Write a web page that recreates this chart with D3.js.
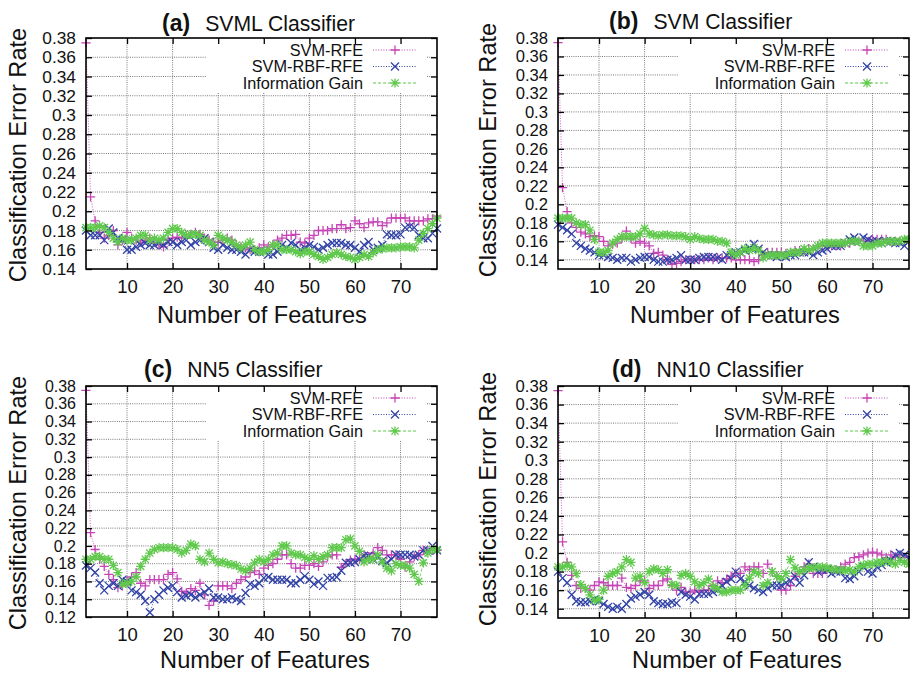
<!DOCTYPE html>
<html>
<head>
<meta charset="utf-8">
<script src="https://cdn.jsdelivr.net/npm/d3@7"></script>
<style>
  body { margin: 0; background: #fff; }
  svg { display: block; font-family: "Liberation Sans", Arial, sans-serif; }
</style>
</head>
<body>
<svg id="chart" width="910" height="676"></svg>
<script>
/*************************************************************************/
// data (x = number of features, 1..78)

const features = d3.range(1, 79);
const seriesNames = ['SVM-RFE', 'SVM-RBF-RFE', 'Information Gain'];
const xTicks = [10, 20, 30, 40, 50, 60, 70];

const svmlRfe = [.375,.215,.19,.178,.172,.175,.18,.165,.17,.178,
  .172,.17,.168,.17,.172,.168,.165,.163,.17,.172,
  .173,.172,.175,.176,.178,.176,.172,.17,.168,.168,
  .17,.172,.17,.165,.163,.162,.16,.16,.162,.165,
  .163,.165,.17,.172,.175,.175,.176,.168,.167,.172,
  .175,.18,.18,.18,.182,.182,.186,.182,.183,.19,
  .187,.183,.188,.189,.189,.185,.188,.193,.193,.193,
  .193,.19,.19,.19,.19,.192,.192,.195];
const svmlRbf = [.18,.175,.175,.175,.17,.182,.178,.172,.17,.16,
  .16,.163,.165,.167,.165,.165,.167,.165,.168,.168,
  .165,.168,.17,.165,.168,.17,.172,.168,.162,.16,
  .165,.162,.16,.16,.158,.155,.16,.158,.158,.158,
  .155,.155,.158,.165,.162,.167,.165,.16,.162,.165,
  .163,.16,.162,.165,.167,.167,.167,.165,.165,.162,
  .158,.165,.168,.16,.162,.165,.176,.175,.175,.176,
  .183,.184,.183,.175,.172,.172,.177,.182];
const svmlIg = [.183,.183,.183,.185,.183,.178,.172,.168,.172,.17,
  .17,.172,.175,.175,.17,.172,.17,.172,.178,.182,
  .182,.178,.175,.176,.176,.175,.17,.168,.165,.175,
  .172,.17,.168,.165,.162,.165,.168,.16,.158,.158,
  .16,.165,.165,.16,.16,.16,.158,.156,.158,.158,
  .155,.153,.15,.152,.155,.157,.155,.153,.152,.15,
  .152,.155,.153,.157,.16,.161,.162,.162,.162,.163,
  .163,.163,.162,.17,.177,.182,.187,.193];

const svmRfe = [.375,.218,.192,.18,.175,.17,.168,.165,.166,.165,
  .16,.155,.157,.158,.163,.171,.163,.158,.16,.158,
  .155,.147,.148,.145,.14,.135,.136,.138,.14,.14,
  .14,.14,.14,.142,.14,.142,.142,.142,.142,.14,
  .14,.14,.14,.138,.14,.145,.148,.148,.148,.148,
  .147,.148,.15,.15,.15,.152,.152,.155,.155,.155,
  .155,.155,.155,.158,.158,.16,.16,.16,.16,.162,
  .162,.162,.162,.16,.16,.16,.16,.16];
const svmRbf = [.178,.175,.172,.168,.158,.155,.152,.15,.148,.145,
  .145,.143,.142,.14,.142,.142,.138,.14,.142,.143,
  .143,.14,.138,.138,.14,.14,.142,.145,.14,.14,
  .14,.142,.143,.143,.143,.142,.14,.145,.145,.148,
  .148,.15,.153,.157,.152,.148,.145,.145,.143,.145,
  .143,.145,.145,.148,.148,.148,.145,.148,.15,.152,
  .155,.155,.155,.158,.162,.164,.16,.164,.162,.16,
  .16,.158,.16,.16,.158,.158,.155,.16];
const svmIg = [.185,.185,.185,.185,.18,.178,.178,.172,.162,.148,
  .148,.15,.158,.162,.165,.165,.165,.165,.168,.174,
  .168,.167,.166,.167,.167,.166,.166,.166,.165,.162,
  .165,.163,.162,.162,.162,.16,.16,.158,.148,.145,
  .148,.152,.15,.153,.15,.142,.145,.145,.145,.145,
  .145,.148,.148,.148,.152,.15,.152,.155,.158,.158,
  .158,.158,.158,.158,.16,.16,.16,.155,.155,.155,
  .158,.158,.16,.16,.16,.16,.162,.162];

const nn5Rfe = [.375,.215,.196,.185,.177,.168,.162,.153,.155,.16,
  .165,.17,.158,.155,.162,.162,.162,.162,.168,.17,
  .163,.149,.147,.152,.15,.158,.145,.133,.138,.155,
  .155,.155,.152,.158,.162,.165,.17,.172,.168,.175,
  .178,.18,.185,.19,.19,.18,.175,.175,.178,.178,
  .18,.177,.182,.188,.19,.19,.176,.18,.184,.185,
  .185,.19,.188,.192,.198,.195,.19,.19,.19,.185,
  .176,.182,.188,.19,.195,.195,.195,.195];
const nn5Rbf = [.178,.175,.17,.158,.15,.155,.158,.155,.162,.16,
  .15,.148,.145,.138,.125,.14,.145,.15,.153,.155,
  .148,.142,.144,.145,.142,.145,.148,.152,.142,.142,
  .14,.14,.142,.14,.138,.147,.157,.155,.158,.164,
  .165,.162,.162,.162,.162,.158,.158,.162,.166,.162,
  .157,.16,.155,.164,.164,.165,.172,.181,.181,.182,
  .185,.189,.189,.185,.187,.183,.181,.185,.19,.19,
  .19,.19,.188,.19,.195,.195,.2,.195];
const nn5Ig = [.185,.185,.188,.188,.185,.185,.178,.17,.157,.158,
  .16,.165,.177,.185,.192,.196,.198,.198,.198,.198,
  .196,.192,.195,.202,.2,.185,.182,.192,.185,.181,
  .182,.18,.179,.178,.174,.172,.175,.181,.185,.182,
  .185,.19,.192,.2,.2,.192,.19,.19,.187,.185,
  .189,.185,.188,.19,.198,.198,.198,.207,.208,.2,
  .194,.182,.185,.185,.19,.182,.175,.172,.18,.178,
  .178,.175,.168,.16,.181,.192,.196,.196];

const nn10Rfe = [.375,.212,.19,.176,.165,.162,.162,.16,.165,.169,
  .168,.165,.165,.165,.173,.163,.162,.165,.17,.17,
  .162,.165,.165,.17,.172,.165,.16,.163,.158,.158,
  .16,.158,.16,.16,.165,.17,.168,.172,.175,.178,
  .178,.185,.182,.185,.185,.178,.188,.18,.175,.16,
  .16,.165,.175,.178,.185,.188,.178,.178,.178,.182,
  .182,.182,.185,.188,.19,.195,.196,.198,.2,.201,
  .2,.198,.195,.198,.196,.198,.195,.19];
const nn10Rbf = [.18,.173,.168,.155,.148,.147,.147,.148,.15,.148,
  .145,.142,.14,.142,.14,.145,.151,.153,.155,.158,
  .155,.148,.146,.145,.145,.147,.146,.158,.155,.153,
  .15,.156,.156,.156,.158,.16,.165,.169,.172,.18,
  .172,.169,.165,.162,.16,.158,.162,.165,.165,.165,
  .168,.17,.175,.168,.176,.19,.185,.18,.182,.182,
  .178,.18,.18,.173,.172,.175,.18,.185,.18,.178,
  .185,.187,.19,.192,.198,.2,.198,.195];
const nn10Ig = [.185,.185,.187,.185,.178,.166,.162,.155,.149,.15,
  .16,.175,.178,.18,.185,.193,.19,.173,.175,.168,
  .18,.183,.182,.178,.182,.166,.165,.176,.178,.175,
  .169,.165,.168,.172,.164,.162,.158,.158,.16,.16,
  .16,.165,.173,.18,.178,.165,.168,.18,.175,.172,
  .178,.193,.184,.18,.182,.184,.184,.185,.185,.184,
  .183,.182,.182,.181,.182,.18,.185,.187,.188,.188,
  .19,.19,.192,.19,.188,.192,.19,.188];

/*************************************************************************/
// layout of the four panels

const panels = [
  { tag: '(a)', name: 'SVML Classifier', data: [svmlRfe, svmlRbf, svmlIg],
    x0: 86, x1: 437, y0: 38, y1: 269, ymin: 0.14, titleX: 162, titleY: 31, yLabX: 26, yLabY: 155, xLabX: 262, xLabY: 323 },
  { tag: '(b)', name: 'SVM Classifier', data: [svmRfe, svmRbf, svmIg],
    x0: 558, x1: 909, y0: 38, y1: 269, ymin: 0.13, titleX: 609, titleY: 29, yLabX: 496, yLabY: 150, xLabX: 735, xLabY: 323 },
  { tag: '(c)', name: 'NN5 Classifier', data: [nn5Rfe, nn5Rbf, nn5Ig],
    x0: 86, x1: 437, y0: 386, y1: 617, ymin: 0.12, titleX: 144, titleY: 377, yLabX: 26, yLabY: 503, xLabX: 265, xLabY: 668 },
  { tag: '(d)', name: 'NN10 Classifier', data: [nn10Rfe, nn10Rbf, nn10Ig],
    x0: 558, x1: 909, y0: 386, y1: 618, ymin: 0.13, titleX: 612, titleY: 377, yLabX: 496, yLabY: 499, xLabX: 737, xLabY: 668 }
];

const styles = [
  { color: '#c545b6', dash: '1,1.6', marker: 'M-4.6,0H4.6M0,-4.6V4.6' },
  { color: '#3142a6', dash: '1,1.6', marker: 'M-4,-4L4,4M-4,4L4,-4' },
  { color: '#5fc94b', dash: '3,2',   marker: 'M-4.6,0H4.6M0,-4.6V4.6M-3.6,-3.6L3.6,3.6M-3.6,3.6L3.6,-3.6' }
];

const svg = d3.select('#chart');
svg.append('rect').attr('width', 910).attr('height', 676).attr('fill', '#fff');

/*************************************************************************/

function drawPanel(p){
  const g = svg.append('g');
  const x = d3.scaleLinear().domain([1, 78]).range([p.x0, p.x1]);
  const y = d3.scaleLinear().domain([p.ymin, 0.38]).range([p.y1, p.y0]);
  const yTicks = d3.range(6, 20).map(k => k * 0.02).filter(v => v >= p.ymin - 1e-9);
  // tick labels sit very tight; keep font under the tick spacing
  const tickFont = Math.min(17.5, (y(0.36) - y(0.38)) * 0.9);

  // grid (not on the border lines)
  const gridY = yTicks.filter(v => y(v) < p.y1 - 1 && y(v) > p.y0 + 1);
  g.append('g').selectAll('line').data(gridY).enter().append('line')
    .attr('x1', p.x0).attr('x2', p.x1)
    .attr('y1', d => y(d)).attr('y2', d => y(d))
    .attr('stroke', '#7a7a7a').attr('stroke-width', 1).attr('stroke-dasharray', '1,1.2');
  g.append('g').selectAll('line').data(xTicks).enter().append('line')
    .attr('x1', d => x(d)).attr('x2', d => x(d))
    .attr('y1', p.y0).attr('y2', p.y1)
    .attr('stroke', '#7a7a7a').attr('stroke-width', 1).attr('stroke-dasharray', '1,1.2');

  // series
  p.data.forEach((vals, i) => {
    const s = styles[i];
    const pts = features.map((f, j) => [f, vals[j]]);
    g.append('path')
      .datum(pts)
      .attr('fill', 'none')
      .attr('stroke', s.color).attr('stroke-width', 1).attr('stroke-opacity', 0.85)
      .attr('stroke-dasharray', s.dash)
      .attr('d', d3.line().x(d => x(d[0])).y(d => y(d[1])));
    g.append('g').selectAll('path').data(pts).enter().append('path')
      .attr('transform', d => `translate(${x(d[0])},${y(d[1])})`)
      .attr('d', s.marker)
      .attr('fill', 'none').attr('stroke', s.color).attr('stroke-width', 1.3);
  });

  // key box hides grid behind it
  g.append('rect')
    .attr('x', p.x1 - 230).attr('y', p.y0 + 1)
    .attr('width', 220).attr('height', 54)
    .attr('fill', '#fff');
  seriesNames.forEach((name, i) => {
    const s = styles[i];
    const ry = p.y0 + 12 + i * 16.5;
    const tx = p.x1 - 74;
    g.append('text')
      .attr('x', tx).attr('y', ry).attr('dy', '0.36em')
      .attr('text-anchor', 'end').attr('font-size', 16.3).attr('fill', '#111')
      .text(name);
    g.append('line')
      .attr('x1', tx + 10).attr('x2', tx + 54).attr('y1', ry).attr('y2', ry)
      .attr('stroke', s.color).attr('stroke-width', 1).attr('stroke-dasharray', s.dash);
    g.append('path')
      .attr('transform', `translate(${tx + 32},${ry})`)
      .attr('d', s.marker)
      .attr('fill', 'none').attr('stroke', s.color).attr('stroke-width', 1.3);
  });

  // axes, ticks pointing inward
  const yAxis = g.append('g')
    .attr('transform', `translate(${p.x0},0)`)
    .call(d3.axisLeft(y).tickValues(yTicks).tickSize(-6).tickPadding(10).tickFormat(d => String(+d.toFixed(2))));
  const xAxis = g.append('g')
    .attr('transform', `translate(0,${p.y1})`)
    .call(d3.axisBottom(x).tickValues(xTicks).tickSize(-6).tickPadding(11));
  g.append('g')
    .attr('transform', `translate(${p.x1},0)`)
    .call(d3.axisRight(y).tickValues(yTicks).tickSize(-6).tickFormat(''));
  g.append('g')
    .attr('transform', `translate(0,${p.y0})`)
    .call(d3.axisTop(x).tickValues(xTicks).tickSize(-6).tickFormat(''));
  g.selectAll('.domain').remove();
  g.selectAll('.tick line').attr('stroke', '#000').attr('stroke-width', 1.3);
  yAxis.selectAll('text')
    .attr('font-size', tickFont).attr('fill', '#111').attr('font-family', '"Liberation Sans", Arial, sans-serif');
  xAxis.selectAll('text')
    .attr('font-size', 18.5).attr('fill', '#111').attr('font-family', '"Liberation Sans", Arial, sans-serif');

  // border
  g.append('rect')
    .attr('x', p.x0).attr('y', p.y0)
    .attr('width', p.x1 - p.x0).attr('height', p.y1 - p.y0)
    .attr('fill', 'none').attr('stroke', '#000').attr('stroke-width', 1.6);

  // title
  const t = g.append('text').attr('x', p.titleX).attr('y', p.titleY).attr('fill', '#111');
  t.append('tspan').attr('font-weight', 'bold').attr('font-size', 23).text(p.tag);
  t.append('tspan').attr('dx', 15).attr('font-size', 21.2).text(p.name);

  // axis labels
  g.append('text')
    .attr('transform', `translate(${p.yLabX},${p.yLabY}) rotate(-90)`)
    .attr('text-anchor', 'middle').attr('font-size', 23.6).attr('fill', '#111')
    .text('Classification Error Rate');
  g.append('text')
    .attr('x', p.xLabX).attr('y', p.xLabY)
    .attr('text-anchor', 'middle').attr('font-size', 23.6).attr('fill', '#111')
    .text('Number of Features');
}

/*************************************************************************/

panels.forEach(drawPanel);
</script>
</body>
</html>
